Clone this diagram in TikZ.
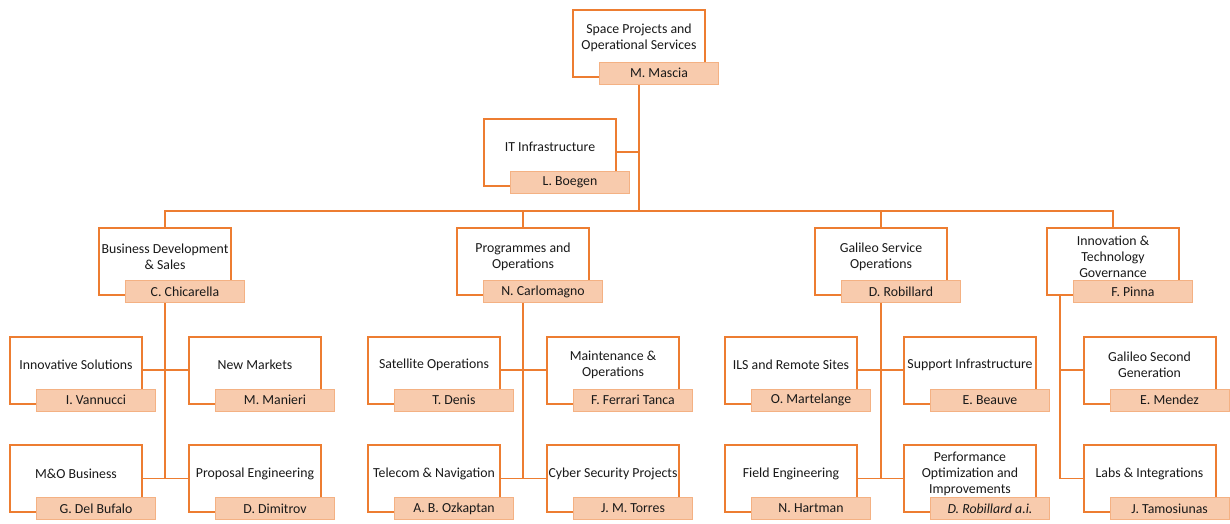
\documentclass[tikz,border=0pt]{standalone}
\usepackage{fontspec}
\setmainfont{Carlito}
\definecolor{orgline}{RGB}{237,125,49}
\definecolor{orgfill}{RGB}{248,203,173}
\definecolor{orgedge}{RGB}{244,177,131}

\begin{document}
\begin{tikzpicture}[x=1pt,y=-1pt,
  font=\fontsize{13.8}{16}\selectfont,
  unitbox/.style={draw=orgline,line width=2pt,fill=white,minimum width=132pt,minimum height=67pt,inner sep=0pt},
  namebox/.style={draw=orgedge,fill=orgfill,line width=1pt,minimum width=119pt,minimum height=22pt,inner sep=0pt,xshift=20pt,yshift=4.5pt,text=black!90},
  title/.style={align=center,yshift=5pt,text=black!90},
  link/.style={draw=orgline,line width=1.2pt}]
\useasboundingbox (0,0) rectangle (1230,523);

% Head of department
\node[unitbox] (sp) at (639,43) {};
\node[title] (spt) at (sp) {Space Projects and\\Operational Services};
\node[namebox] (spn) at (sp.south) {M. Mascia};

\node[unitbox] (it) at (550,152) {};
\node[title] (itt) at (it) {IT Infrastructure};
\node[namebox] (itn) at (it.south) {L. Boegen};

% Divisions
\node[unitbox] (bd) at (165,261.5) {};
\node[title] (bdt) at (bd) {Business Development\\\& Sales};
\node[namebox] (bdn) at (bd.south) {C. Chicarella};

\node[unitbox] (po) at (523,261.5) {};
\node[title] (pot) at (po) {Programmes and\\Operations};
\node[namebox] (pon) at (po.south) {N. Carlomagno};

\node[unitbox] (gso) at (881,261.5) {};
\node[title] (gsot) at (gso) {Galileo Service\\Operations};
\node[namebox] (gson) at (gso.south) {D. Robillard};

\node[unitbox] (itg) at (1113,261.5) {};
\node[title] (itgt) at (itg) {Innovation \&\\Technology\\Governance};
\node[namebox] (itgn) at (itg.south) {F. Pinna};

% Business Development & Sales
\node[unitbox] (inv) at (76,370) {};
\node[title] (invt) at (inv) {Innovative Solutions};
\node[namebox] (invn) at (inv.south) {I. Vannucci};

\node[unitbox] (nm) at (255,370) {};
\node[title] (nmt) at (nm) {New Markets};
\node[namebox] (nmn) at (nm.south) {M. Manieri};

\node[unitbox] (mob) at (76,478.5) {};
\node[title] (mobt) at (mob) {M\&O Business};
\node[namebox] (mobn) at (mob.south) {G. Del Bufalo};

\node[unitbox] (pe) at (255,478.5) {};
\node[title] (pet) at (pe) {Proposal Engineering};
\node[namebox] (pen) at (pe.south) {D. Dimitrov};

% Programmes and Operations
\node[unitbox] (so) at (434,370) {};
\node[title] (sot) at (so) {Satellite Operations};
\node[namebox] (son) at (so.south) {T. Denis};

\node[unitbox] (mo) at (613,370) {};
\node[title] (mot) at (mo) {Maintenance \&\\Operations};
\node[namebox] (mon) at (mo.south) {F. Ferrari Tanca};

\node[unitbox] (tn) at (434,478.5) {};
\node[title] (tnt) at (tn) {Telecom \& Navigation};
\node[namebox] (tnn) at (tn.south) {A. B. Ozkaptan};

\node[unitbox] (csp) at (613,478.5) {};
\node[title] (cspt) at (csp) {Cyber Security Projects};
\node[namebox] (cspn) at (csp.south) {J. M. Torres};

% Galileo Service Operations
\node[unitbox] (ils) at (791,370) {};
\node[title] (ilst) at (ils) {ILS and Remote Sites};
\node[namebox] (ilsn) at (ils.south) {O. Martelange};

\node[unitbox] (si) at (970,370) {};
\node[title] (sit) at (si) {Support Infrastructure};
\node[namebox] (sin) at (si.south) {E. Beauve};

\node[unitbox] (fe) at (791,478.5) {};
\node[title] (fet) at (fe) {Field Engineering};
\node[namebox] (fen) at (fe.south) {N. Hartman};

\node[unitbox] (poi) at (970,478.5) {};
\node[title] (poit) at (poi) {Performance\\Optimization and\\Improvements};
\node[namebox] (poin) at (poi.south) {\itshape D. Robillard a.i.};

% Innovation & Technology Governance
\node[unitbox] (gsg) at (1149.5,370) {};
\node[title] (gsgt) at (gsg) {Galileo Second\\Generation};
\node[namebox] (gsgn) at (gsg.south) {E. Mendez};

\node[unitbox] (li) at (1149.5,478.5) {};
\node[title] (lit) at (li) {Labs \& Integrations};
\node[namebox] (lin) at (li.south) {J. Tamosiunas};

% Connectors
\coordinate (bus) at (639,211);
\draw[link] (sp |- spn.south) -- (bus);
\draw[link] (it.east) -- (it.east -| bus);
\draw[link] (bd.north) -- (bd |- bus) -- (itg |- bus) -- (itg.north);
\draw[link] (po.north) -- (po |- bus);
\draw[link] (gso.north) -- (gso |- bus);

\draw[link] (bd |- bdn.south) -- (bd |- mob.east);
\draw[link] (inv.east) -- (nm.west);
\draw[link] (mob.east) -- (pe.west);

\draw[link] (po |- pon.south) -- (po |- tn.east);
\draw[link] (so.east) -- (mo.west);
\draw[link] (tn.east) -- (csp.west);

\draw[link] (gso |- gson.south) -- (gso |- fe.east);
\draw[link] (ils.east) -- (si.west);
\draw[link] (fe.east) -- (poi.west);

\coordinate (itgtr) at ([xshift=14pt]itg.south west);
\draw[link] (itgtr) -- (itgtr |- li.west) -- (li.west);
\draw[link] (itgtr |- gsg.west) -- (gsg.west);
\end{tikzpicture}
\end{document}
